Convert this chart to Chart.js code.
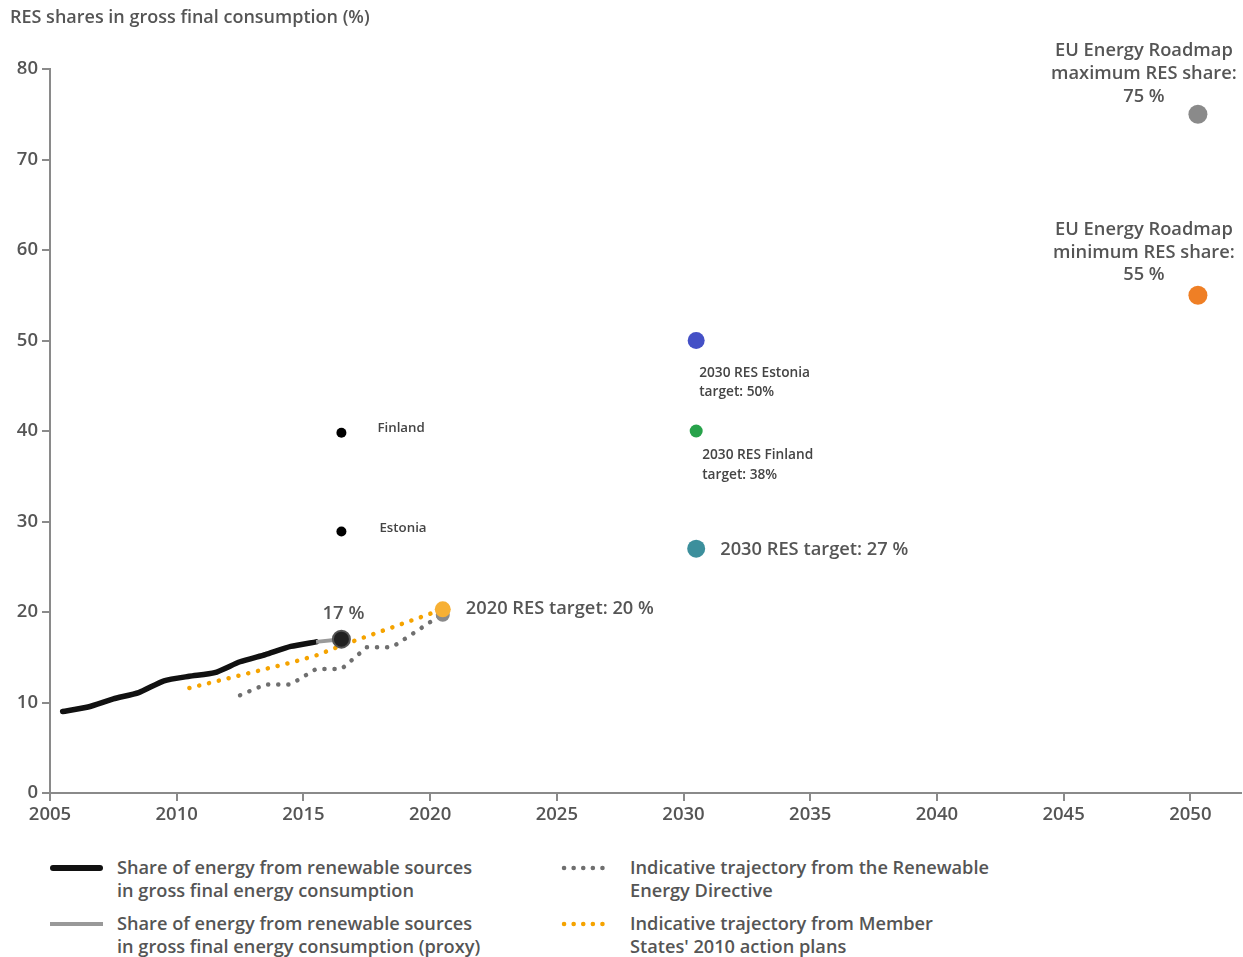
<!DOCTYPE html>
<html>
<head>
<meta charset="utf-8">
<script src="https://cdn.jsdelivr.net/npm/chart.js@4.4.1/dist/chart.umd.min.js"></script>
<style>
  html, body { margin: 0; padding: 0; background: #fff; }
  body { width: 1243px; height: 957px; position: relative; overflow: hidden; font-family: "Open Sans", sans-serif; }
  #wrap { position: absolute; left: 0; top: 0; width: 1243px; height: 845px; }
  .lg { position: absolute; color: #555; font-size: 18.2px; font-weight: 600; line-height: 23px; letter-spacing: 0; white-space: nowrap; }
  .sw { position: absolute; }
</style>
</head>
<body>
<div id="wrap"><canvas id="c" width="1243" height="845"></canvas></div>

<div class="sw" style="left:50px;top:865px;width:53px;height:0;border-top:6px solid #111;border-radius:3px;"></div>
<div class="lg" style="left:117px;top:856px;">Share of energy from renewable sources<br>in gross final energy consumption</div>
<div class="sw" style="left:50px;top:922px;width:53px;height:0;border-top:4px solid #999;"></div>
<div class="lg" style="left:117px;top:912px;">Share of energy from renewable sources<br>in gross final energy consumption (proxy)</div>
<canvas class="sw" id="s1" width="60" height="10" style="left:560px;top:863px;"></canvas>
<div class="lg" style="left:630px;top:856px;">Indicative trajectory from the Renewable<br>Energy Directive</div>
<canvas class="sw" id="s2" width="60" height="10" style="left:560px;top:919px;"></canvas>
<div class="lg" style="left:630px;top:912px;">Indicative trajectory from Member<br>States' 2010 action plans</div>

<script>
// ---------- DATA ----------
const actualYears   = [2005.5, 2006.5, 2007.5, 2008.5, 2009.5, 2010.5, 2011.5, 2012.5, 2013.5, 2014.5, 2015.5];
const actualValues  = [9.0, 9.5, 10.4, 11.1, 12.4, 12.9, 13.3, 14.5, 15.3, 16.2, 16.7];
const proxyYears    = [2015.5, 2016.5];
const proxyValues   = [16.7, 17.0];
const redYears      = [2012.5, 2013.5, 2014.5, 2015.5, 2016.5, 2017.5, 2018.5, 2020.5];
const redValues     = [10.8, 12.0, 12.0, 13.7, 13.7, 16.1, 16.1, 19.8];
const nreapYears    = [2010.5, 2011.5, 2012.5, 2013.5, 2014.5, 2015.5, 2016.5, 2017.5, 2018.5, 2019.5, 2020.5];
const nreapValues   = [11.6, 12.3, 13.0, 13.7, 14.4, 15.2, 16.3, 17.3, 18.3, 19.3, 20.3];
const countryYear   = [2016.5, 2016.5];
const countryValues = [39.8, 28.9];          // Finland, Estonia
const countryNames  = ["Finland", "Estonia"];
const latestYear = 2016.5, latestValue = 17.0;
const target2020Year = 2020.5, target2020Values = [19.7, 20.3];  // grey, orange
const target2030Year = 2030.5;
const estoniaTarget2030 = 50, finlandTarget2030 = 40, euTarget2030 = 27;
const roadmapYear = 2050.3, roadmapMax = 75, roadmapMin = 55;
const xTicks = [2005, 2010, 2015, 2020, 2025, 2030, 2035, 2040, 2045, 2050];
const yTicks = [0, 10, 20, 30, 40, 50, 60, 70, 80];
const titleText = "RES shares in gross final consumption (%)";

// ---------- build ----------
const pts = (xs, ys) => xs.map((x, i) => ({ x, y: ys[i] }));
const dot = (x, y) => [{ x, y }];

function drawDots(id, color) {
  const c = document.getElementById(id).getContext('2d');
  c.strokeStyle = color; c.lineWidth = 4.5; c.lineCap = 'round';
  c.setLineDash([0.1, 9.5]);
  c.beginPath(); c.moveTo(4, 5); c.lineTo(52, 5); c.stroke();
}
drawDots('s1', '#6f6f6f');
drawDots('s2', '#f5a300');

const FONT = '"Open Sans", sans-serif';
const TXT = '#555';

const annotations = {
  id: 'annotations',
  afterDatasetsDraw(chart) {
    const { ctx, scales: { x, y } } = chart;
    const X = v => x.getPixelForValue(v), Y = v => y.getPixelForValue(v);
    ctx.save();
    ctx.fillStyle = TXT;
    ctx.textBaseline = 'middle';
    const t = (s, px, py, size, align, weight) => {
      ctx.font = (weight || 600) + ' ' + size + 'px ' + FONT;
      ctx.textAlign = align || 'left';
      ctx.fillText(s, px, py);
    };
    // title
    t(titleText, 10, 18, 18, 'left');
    // 17 %
    t(Math.round(latestValue) + ' %', X(latestYear) + 2, Y(latestValue) - 25, 18.5, 'center');
    t('2020 RES target: 20 %', X(target2020Year) + 23, Y(20) - 3, 18.3, 'left');
    t('2030 RES target: ' + euTarget2030 + ' %', X(target2030Year) + 24, Y(euTarget2030) + 1, 18.3, 'left');
    // countries
    ctx.fillStyle = '#444';
    t(countryNames[0], X(countryYear[0]) + 36, Y(countryValues[0]) - 5, 13.3, 'left', 600);
    t(countryNames[1], X(countryYear[1]) + 38, Y(countryValues[1]) - 3, 13.3, 'left', 600);
    t('2030 RES Estonia', X(target2030Year) + 3, Y(estoniaTarget2030) + 33, 13.7, 'left', 600);
    t('target: 50%', X(target2030Year) + 3, Y(estoniaTarget2030) + 52, 13.7, 'left', 600);
    t('2030 RES Finland', X(target2030Year) + 6, Y(finlandTarget2030) + 24, 13.7, 'left', 600);
    t('target: 38%', X(target2030Year) + 6, Y(finlandTarget2030) + 44, 13.7, 'left', 600);
    // roadmap
    ctx.fillStyle = TXT;
    const rx = X(roadmapYear) - 54;
    t('EU Energy Roadmap', rx, Y(roadmapMax) - 63, 18.3, 'center');
    t('maximum RES share:', rx, Y(roadmapMax) - 40, 18.3, 'center');
    t(roadmapMax + ' %', rx, Y(roadmapMax) - 17, 18.3, 'center');
    t('EU Energy Roadmap', rx, Y(roadmapMin) - 65, 18.3, 'center');
    t('minimum RES share:', rx, Y(roadmapMin) - 42, 18.3, 'center');
    t(roadmapMin + ' %', rx, Y(roadmapMin) - 20, 18.3, 'center');
    ctx.restore();
  }
};

const scatterDs = (data, color, r, order, border) => ({
  type: 'scatter', data, showLine: false,
  pointRadius: r, pointHoverRadius: r,
  pointBackgroundColor: color, pointBorderColor: border || color, pointBorderWidth: border ? 2 : 0,
  order
});

const axisCommon = {
  grid: { drawOnChartArea: false, drawTicks: true, tickLength: 8, color: '#8a8a8a', lineWidth: 2 },
  border: { display: true, color: '#8a8a8a', width: 2 },
};

new Chart(document.getElementById('c'), {
  type: 'line',
  data: {
    datasets: [
      { data: pts(redYears, redValues), borderColor: '#6f6f6f', borderWidth: 4.5, borderCapStyle: 'round',
        borderDash: [0.1, 10], pointRadius: 0, tension: 0, order: 6 },
      { data: pts(nreapYears, nreapValues), borderColor: '#f5a300', borderWidth: 4.5, borderCapStyle: 'round',
        borderDash: [0.1, 10], pointRadius: 0, tension: 0, order: 5 },
      { data: pts(actualYears, actualValues), borderColor: '#111', borderWidth: 5.5, borderCapStyle: 'round',
        borderJoinStyle: 'round', pointRadius: 0, tension: 0.2, order: 4 },
      { data: pts(proxyYears, proxyValues), borderColor: '#9a9a9a', borderWidth: 4, pointRadius: 0, tension: 0, order: 3 },
      scatterDs(dot(latestYear, latestValue), '#222', 8.5, 1, '#555'),
      scatterDs(pts(countryYear, countryValues), '#000', 5, 2),
      scatterDs(dot(target2020Year, target2020Values[0]), '#8a8a8a', 7, 2),
      scatterDs(dot(target2020Year, target2020Values[1]), '#f7b034', 8, 1),
      scatterDs(dot(target2030Year, estoniaTarget2030), '#4450c6', 8.5, 1),
      scatterDs(dot(target2030Year, finlandTarget2030), '#27a24a', 6.5, 1),
      scatterDs(dot(target2030Year, euTarget2030), '#3c8f9c', 9, 1),
      scatterDs(dot(roadmapYear, roadmapMax), '#8a8a8a', 9.5, 1),
      scatterDs(dot(roadmapYear, roadmapMin), '#ef7f25', 9.5, 1),
    ]
  },
  options: {
    responsive: false,
    animation: false,
    events: [],
    layout: { autoPadding: false, padding: { left: 10, top: 69, right: 2, bottom: 0 } },
    plugins: { legend: { display: false }, tooltip: { enabled: false }, title: { display: false } },
    scales: {
      x: {
        type: 'linear', min: 2005, max: 2052, position: 'bottom',
        ...axisCommon,
        afterBuildTicks: s => { s.ticks = xTicks.map(v => ({ value: v })); },
        afterFit: s => { s.height = 52; s.paddingLeft = 0; s.paddingRight = 0; },
        ticks: { color: TXT, font: { family: FONT, size: 18.5, weight: 600 }, padding: 3, maxRotation: 0,
                 autoSkip: false, callback: v => String(v) }
      },
      y: {
        type: 'linear', min: 0, max: 80,
        ...axisCommon,
        afterBuildTicks: s => { s.ticks = yTicks.map(v => ({ value: v })); },
        afterFit: s => { s.width = 40; },
        ticks: { color: TXT, font: { family: FONT, size: 18.5, weight: 600 }, padding: 4, callback: v => String(v) }
      }
    }
  },
  plugins: [annotations]
});
</script>
</body>
</html>
